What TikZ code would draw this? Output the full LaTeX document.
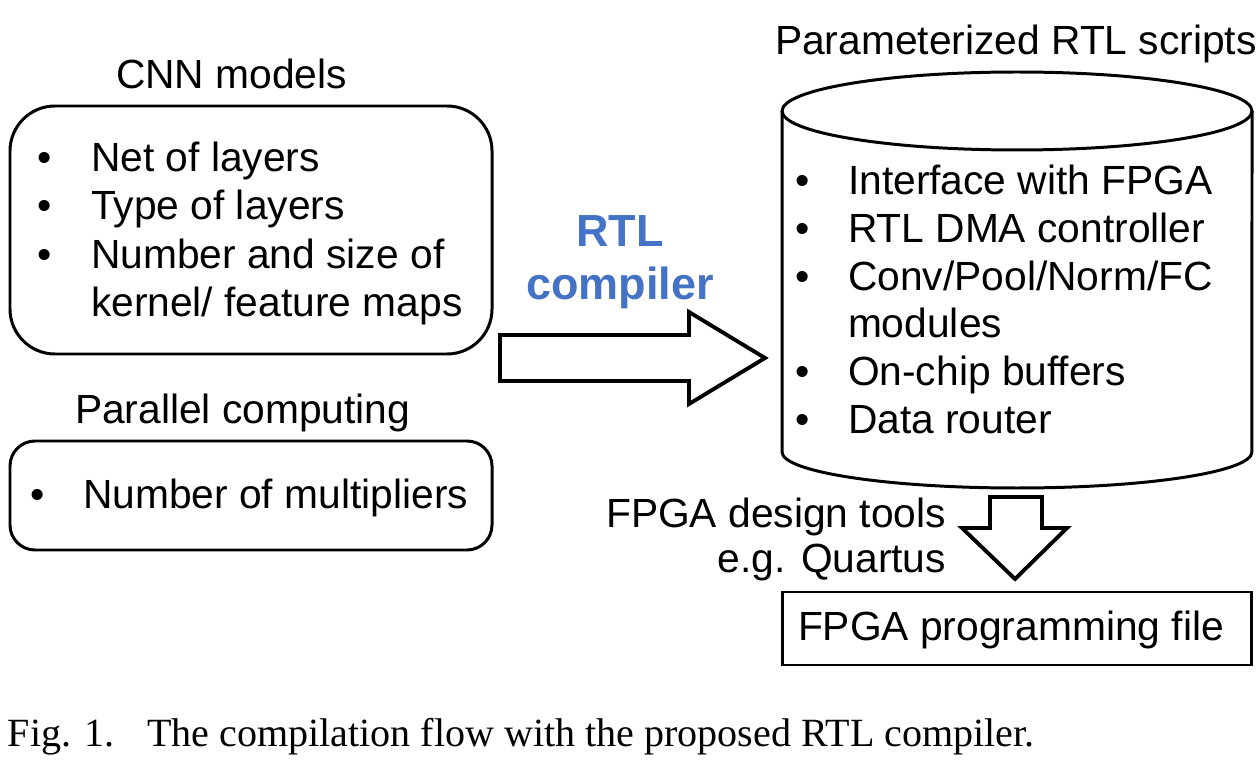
\documentclass[tikz,border=0pt]{standalone}
\usepackage{fontspec}
\setmainfont{Liberation Sans}
\newfontfamily\capfont{Liberation Serif}
\definecolor{rtlblue}{HTML}{4472C4}
\begin{document}
\begin{tikzpicture}[x=0.02cm,y=-0.02cm,
  every node/.style={inner sep=0pt,outer sep=0pt},
  txt/.style={anchor=base west,font=\fontsize{23.2}{27.6}\selectfont},
  bul/.style={anchor=base,font=\fontsize{23.2}{27.6}\selectfont},
  bluetxt/.style={anchor=base,text=rtlblue,font=\fontsize{25.6}{30}\selectfont\bfseries},
  captiontxt/.style={anchor=base west,font=\capfont\fontsize{22.8}{26}\selectfont},
  boxline/.style={draw=black,line width=1.7pt},
  arrowline/.style={draw=black,line width=2.2pt,line join=miter,fill=white}]
\useasboundingbox (0,0) rectangle (1256,766);

% left boxes
\draw[boxline,rounded corners=0.9cm] (10,106) rectangle (492,354);
\draw[boxline,rounded corners=0.5cm] (10,441) rectangle (492,550);

\node[txt] (cnn) at (116,89) {CNN models};
\node[bul] (b1) at (45,172) {\textbullet};
\node[txt] (l1) at (91,172) {Net of layers};
\node[bul] (b2) at (45,220) {\textbullet};
\node[txt] (l2) at (91,220) {Type of layers};
\node[bul] (b3) at (45,268.5) {\textbullet};
\node[txt] (l3) at (91,268.5) {Number and size of};
\node[txt] (l4) at (91,317) {kernel/ feature maps};

\node[txt] (par) at (75,423) {Parallel computing};
\node[bul] (b5) at (38,508) {\textbullet};
\node[txt] (l5) at (83,508) {Number of multipliers};

% right arrow
\draw[arrowline] (500,335) -- (689,335) -- (689,312) -- (765,358) -- (689,404) -- (689,381) -- (500,381) -- cycle;
\node[bluetxt] (rtl) at (620,247) {RTL};
\node[bluetxt] (comp) at (620,300) {compiler};

% cylinder
\draw[boxline] (782,111) -- (782,452) arc[start angle=180,end angle=360,x radius=4.7cm,y radius=0.72cm] -- (1252,111);
\draw[boxline] (1017,111) ellipse[x radius=4.7cm,y radius=0.78cm];
\node[txt] (prm) at (775,55) {Parameterized RTL scripts};
\node[bul] (c1) at (803,195) {\textbullet};
\node[txt] (r1) at (848,195) {Interface with FPGA};
\node[bul] (c2) at (803,242.6) {\textbullet};
\node[txt] (r2) at (848,242.6) {RTL DMA controller};
\node[bul] (c3) at (803,290.2) {\textbullet};
\node[txt] (r3) at (848,290.2) {Conv/Pool/Norm/FC};
\node[txt] (r4) at (848,337.8) {modules};
\node[bul] (c5) at (803,385.4) {\textbullet};
\node[txt] (r5) at (848,385.4) {On-chip buffers};
\node[bul] (c6) at (803,433) {\textbullet};
\node[txt] (r6) at (848,433) {Data router};

% down arrow
\draw[arrowline] (990,497) -- (1042,497) -- (1042,528) -- (1067,528) -- (1015,579) -- (962,528) -- (990,528) -- cycle;
\node[txt,anchor=base east] (tools) at (946,527) {FPGA design tools};
\node[txt,anchor=base east] (quart) at (946,572) {e.g. Quartus};

% output box
\draw[boxline] (782,592) rectangle (1251,665);
\node[txt] (fpf) at (798,640) {FPGA programming file};

% caption
\node[captiontxt] (fig) at (8,746) {Fig. 1.};
\node[captiontxt] (captxt) at (147,746) {The compilation flow with the proposed RTL compiler.};
\end{tikzpicture}
\end{document}
